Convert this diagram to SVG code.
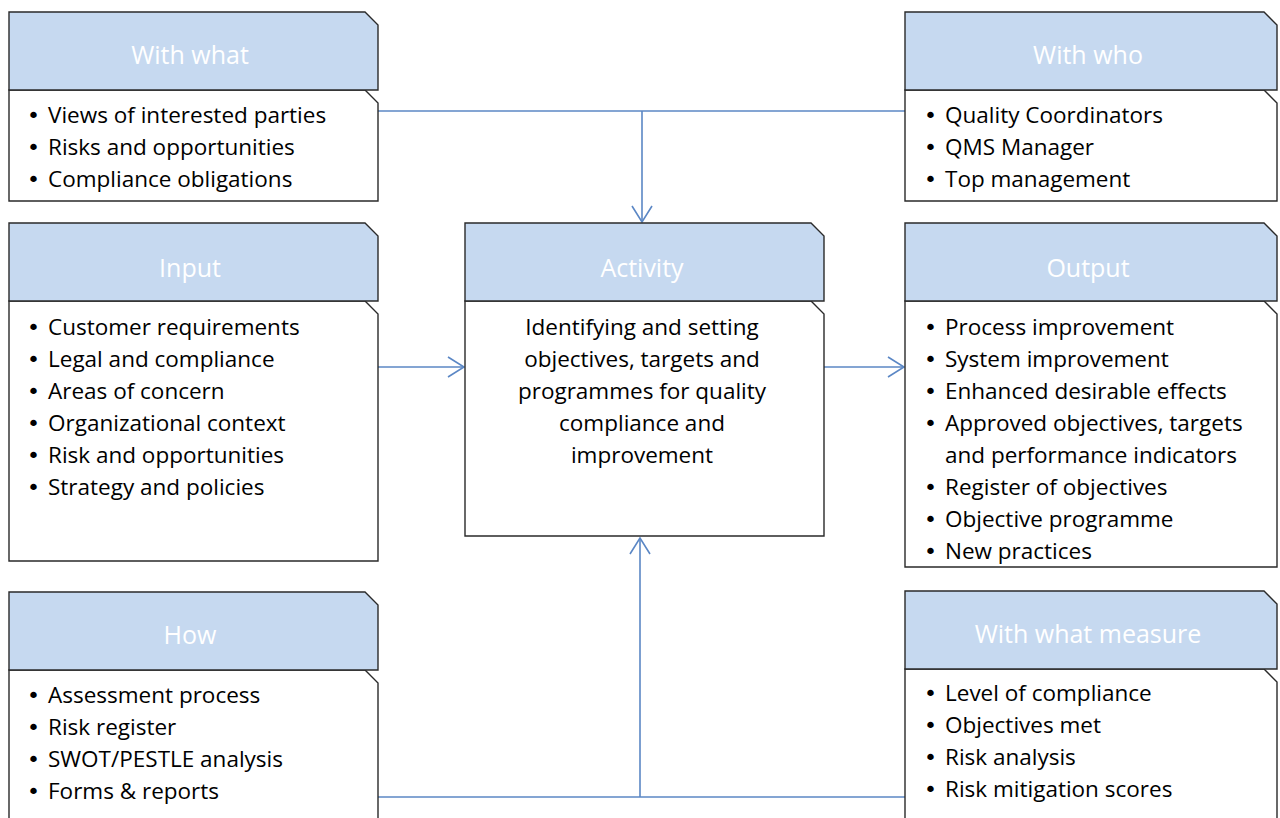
<svg xmlns="http://www.w3.org/2000/svg" width="1280" height="818" viewBox="0 0 1280 818">
<style>
.hd{fill:#C6D9F0;stroke:#2a2a2a;stroke-width:1.4}
.bd{fill:#ffffff;stroke:#2a2a2a;stroke-width:1.4}
.ht{font-family:"Open Sans","Noto Sans",sans-serif;font-size:25px;fill:#ffffff;text-anchor:middle}
.tx{font-family:"Open Sans","Noto Sans",sans-serif;font-size:22.5px;fill:#000000}
.bl{font-family:"DejaVu Sans",sans-serif;font-size:22px;fill:#000000}
.ct{font-family:"Open Sans","Noto Sans",sans-serif;font-size:22.5px;fill:#000000;text-anchor:middle}
.cn{fill:none;stroke:#5B87C5;stroke-width:1.6}
</style>
<rect width="1280" height="818" fill="#ffffff"/>
<g id="connectors">
<polyline class="cn" points="378,111 905,111"/>
<polyline class="cn" points="642,111 642,222"/>
<polyline class="cn" points="632,206 642,222 652,206"/>
<polyline class="cn" points="378,367 464,367"/>
<polyline class="cn" points="448,357 464,367 448,377"/>
<polyline class="cn" points="824,367 904,367"/>
<polyline class="cn" points="888,357 904,367 888,377"/>
<polyline class="cn" points="378,797 905,797"/>
<polyline class="cn" points="640,797 640,538"/>
<polyline class="cn" points="630,554 640,538 650,554"/>
</g>
<g id="with-what">
<path class="bd" d="M9,90 H365 L378,103 V201 H9 Z"/>
<path class="hd" d="M9,12 H365 L378,25 V90 H9 Z"/>
<text class="ht" x="190" y="64">With what</text>
<text class="bl" x="27" y="123">•</text><text class="tx" x="48" y="123">Views of interested parties</text>
<text class="bl" x="27" y="155">•</text><text class="tx" x="48" y="155">Risks and opportunities</text>
<text class="bl" x="27" y="187">•</text><text class="tx" x="48" y="187">Compliance obligations</text>
</g>
<g id="with-who">
<path class="bd" d="M905,90 H1264 L1277,103 V201 H905 Z"/>
<path class="hd" d="M905,12 H1264 L1277,25 V90 H905 Z"/>
<text class="ht" x="1088" y="64">With who</text>
<text class="bl" x="924" y="123">•</text><text class="tx" x="945" y="123">Quality Coordinators</text>
<text class="bl" x="924" y="155">•</text><text class="tx" x="945" y="155">QMS Manager</text>
<text class="bl" x="924" y="187">•</text><text class="tx" x="945" y="187">Top management</text>
</g>
<g id="input">
<path class="bd" d="M9,301 H365 L378,314 V561 H9 Z"/>
<path class="hd" d="M9,223 H365 L378,236 V301 H9 Z"/>
<text class="ht" x="190" y="277">Input</text>
<text class="bl" x="27" y="335">•</text><text class="tx" x="48" y="335">Customer requirements</text>
<text class="bl" x="27" y="367">•</text><text class="tx" x="48" y="367">Legal and compliance</text>
<text class="bl" x="27" y="399">•</text><text class="tx" x="48" y="399">Areas of concern</text>
<text class="bl" x="27" y="431">•</text><text class="tx" x="48" y="431">Organizational context</text>
<text class="bl" x="27" y="463">•</text><text class="tx" x="48" y="463">Risk and opportunities</text>
<text class="bl" x="27" y="495">•</text><text class="tx" x="48" y="495">Strategy and policies</text>
</g>
<g id="activity">
<path class="bd" d="M465,301 H811 L824,314 V536 H465 Z"/>
<path class="hd" d="M465,223 H811 L824,236 V301 H465 Z"/>
<text class="ht" x="642" y="277">Activity</text>
<text class="ct" x="642" y="335">Identifying and setting</text>
<text class="ct" x="642" y="367">objectives, targets and</text>
<text class="ct" x="642" y="399">programmes for quality</text>
<text class="ct" x="642" y="431">compliance and</text>
<text class="ct" x="642" y="463">improvement</text>
</g>
<g id="output">
<path class="bd" d="M905,301 H1264 L1277,314 V567 H905 Z"/>
<path class="hd" d="M905,223 H1264 L1277,236 V301 H905 Z"/>
<text class="ht" x="1088" y="277">Output</text>
<text class="bl" x="924" y="335">•</text><text class="tx" x="945" y="335">Process improvement</text>
<text class="bl" x="924" y="367">•</text><text class="tx" x="945" y="367">System improvement</text>
<text class="bl" x="924" y="399">•</text><text class="tx" x="945" y="399">Enhanced desirable effects</text>
<text class="bl" x="924" y="431">•</text><text class="tx" x="945" y="431">Approved objectives, targets</text>
<text class="tx" x="945" y="463">and performance indicators</text>
<text class="bl" x="924" y="495">•</text><text class="tx" x="945" y="495">Register of objectives</text>
<text class="bl" x="924" y="527">•</text><text class="tx" x="945" y="527">Objective programme</text>
<text class="bl" x="924" y="559">•</text><text class="tx" x="945" y="559">New practices</text>
</g>
<g id="how">
<path class="bd" d="M9,670 H365 L378,683 V830 H9 Z"/>
<path class="hd" d="M9,592 H365 L378,605 V670 H9 Z"/>
<text class="ht" x="190" y="644">How</text>
<text class="bl" x="27" y="703">•</text><text class="tx" x="48" y="703">Assessment process</text>
<text class="bl" x="27" y="735">•</text><text class="tx" x="48" y="735">Risk register</text>
<text class="bl" x="27" y="767">•</text><text class="tx" x="48" y="767">SWOT/PESTLE analysis</text>
<text class="bl" x="27" y="799">•</text><text class="tx" x="48" y="799">Forms &amp; reports</text>
</g>
<g id="with-what-measure">
<path class="bd" d="M905,669 H1264 L1277,682 V830 H905 Z"/>
<path class="hd" d="M905,591 H1264 L1277,604 V669 H905 Z"/>
<text class="ht" x="1088" y="643">With what measure</text>
<text class="bl" x="924" y="701">•</text><text class="tx" x="945" y="701">Level of compliance</text>
<text class="bl" x="924" y="733">•</text><text class="tx" x="945" y="733">Objectives met</text>
<text class="bl" x="924" y="765">•</text><text class="tx" x="945" y="765">Risk analysis</text>
<text class="bl" x="924" y="797">•</text><text class="tx" x="945" y="797">Risk mitigation scores</text>
</g>
</svg>
